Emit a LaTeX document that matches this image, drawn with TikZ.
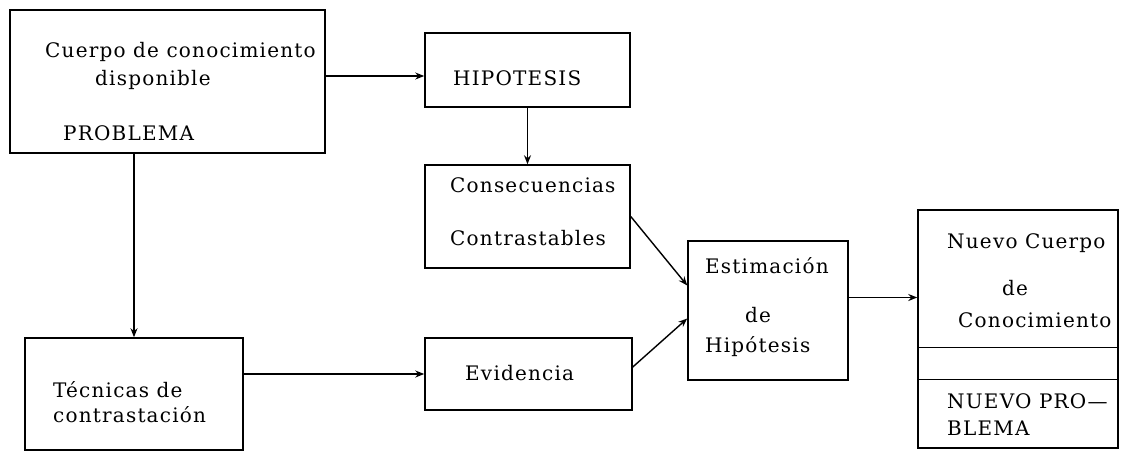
\documentclass[tikz,border=0pt]{standalone}
\usepackage{fontspec}
\setmainfont[LetterSpace=6]{DejaVu Serif}
\usepackage{tikz}
\usetikzlibrary{calc,arrows.meta}
\tikzstyle{block} = [draw, line width=1.5pt, inner sep=0pt]
\tikzstyle{connector} = [line width=1.4pt, -{Stealth[length=9pt,width=7pt]}]
\tikzstyle{caption} = [anchor=base west, inner sep=0pt, font=\fontsize{20}{24}\selectfont]

\begin{document}
\begin{tikzpicture}[x=1pt, y=-1pt]
                \useasboundingbox (0,0) rectangle (1121,453);

                \node (cuerpo) [block, minimum width=315pt, minimum height=143pt] at (167.5,81.5) {};
                \node (hipo) [block, minimum width=205pt, minimum height=74pt] at (527.5,70) {};
                \node (conse) [block, minimum width=205pt, minimum height=103pt] at (527.5,216.5) {};
                \node (tecn) [block, minimum width=218pt, minimum height=112pt] at (134,394) {};
                \node (evid) [block, minimum width=207pt, minimum height=72pt] at (528.5,374) {};
                \node (estim) [block, minimum width=160pt, minimum height=139pt] at (768,310.5) {};
                \node (nuevo) [block, minimum width=200pt, minimum height=238pt] at (1018,329) {};

                \node (cuerpo1) [caption] at (45,57) {Cuerpo de conocimiento};
                \node (cuerpo2) [caption] at (95,85) {disponible};
                \node (cuerpo3) [caption] at (63,140) {PROBLEMA};
                \node (hipo1) [caption] at (453,85) {HIPOTESIS};
                \node (conse1) [caption] at (450,192) {Consecuencias};
                \node (conse2) [caption] at (450,245) {Contrastables};
                \node (tecn1) [caption] at (53,397) {Técnicas de};
                \node (tecn2) [caption] at (53,422) {contrastación};
                \node (evid1) [caption] at (465,380) {Evidencia};
                \node (estim1) [caption] at (705,273) {Estimación};
                \node (estim2) [caption] at (745,322) {de};
                \node (estim3) [caption] at (705,352) {Hipótesis};
                \node (nuevo1) [caption] at (947,248) {Nuevo Cuerpo};
                \node (nuevo2) [caption] at (1002,295) {de};
                \node (nuevo3) [caption] at (958,327) {Conocimiento};
                \node (nuevo4) [caption] at (947,408) {NUEVO PRO---};
                \node (nuevo5) [caption] at (947,435) {BLEMA};

                \draw [line width=1.5pt] ([yshift=-138pt]nuevo.north west) -- ([yshift=-138pt]nuevo.north east);
                \draw [line width=1.5pt] ([yshift=-170pt]nuevo.north west) -- ([yshift=-170pt]nuevo.north east);

                \draw [connector] ([yshift=-6pt]cuerpo.east |- hipo.west) -- ([yshift=-6pt]hipo.west);
                \draw [connector] (cuerpo.south -| tecn.north) -- (tecn.north);
                \draw [connector] (hipo) -- (conse);
                \draw [connector] (tecn.east |- evid.west) -- (evid.west);
                \draw [connector] (conse.east) -- ([yshift=25pt]estim.west);
                \draw [connector] ([yshift=7pt]evid.east) -- ([yshift=-8pt]estim.west);
                \draw [connector] ([yshift=13pt]estim.east) -- ([yshift=13pt]estim.east -| nuevo.west);
            \end{tikzpicture}
\end{document}
